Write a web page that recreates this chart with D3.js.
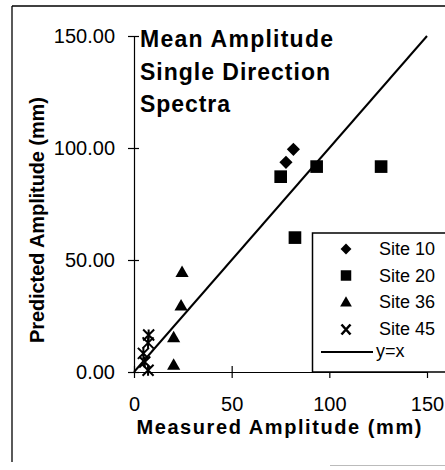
<!DOCTYPE html>
<html>
<head>
<meta charset="utf-8">
<script src="https://cdn.jsdelivr.net/npm/d3@7"></script>
<style>
  html, body { margin: 0; padding: 0; background: #fff; }
  svg { display: block; font-family: "Liberation Sans", Arial, Helvetica, sans-serif; }
</style>
</head>
<body>
<svg id="chart" width="445" height="470"></svg>
<script>
// Measured vs predicted mean amplitude (mm), one array per site: [measured, predicted]
const site10 = [[81.6, 99.4], [77.8, 93.6]];
const site20 = [[75.1, 87.2], [93.5, 91.7], [126.5, 91.7], [82.4, 60.0]];
const site36 = [[24.6, 44.1], [24.1, 29.2], [20.3, 15.0], [20.3, 2.7]];
const site45 = [[7.5, 16.5], [7.2, 13.0], [4.8, 8.3], [5.5, 4.5], [7.2, 0.8]];
const refLine = [[0, 0], [150, 150]];

const xTicks = [0, 50, 100, 150];
const yTicks = [0, 50, 100, 150];
const seriesNames = ["Site 10", "Site 20", "Site 36", "Site 45", "y=x"];
const titleLines = ["Mean Amplitude", "Single Direction", "Spectra"];

const svg = d3.select("#chart");

// outer frame
svg.append("line").attr("x1", 12).attr("y1", 6).attr("x2", 445).attr("y2", 6)
  .attr("stroke", "#000").attr("stroke-width", 1.3);
svg.append("line").attr("x1", 12).attr("y1", 6).attr("x2", 12).attr("y2", 462)
  .attr("stroke", "#000").attr("stroke-width", 1.3);
svg.append("line").attr("x1", 330).attr("y1", 465.5).attr("x2", 445).attr("y2", 465.5)
  .attr("stroke", "#bbb").attr("stroke-width", 1);

const x = d3.scaleLinear().domain([0, 150]).range([134, 427]);
const y = d3.scaleLinear().domain([0, 150]).range([372, 36]);

// y axis
const gy = svg.append("g").attr("transform", `translate(${x(0)},0)`)
  .call(d3.axisLeft(y).tickValues(yTicks).tickFormat(d3.format(".2f")).tickSizeOuter(0).tickPadding(13));
gy.select(".domain").attr("stroke", "#000").attr("stroke-width", 1.2);
gy.selectAll(".tick line").attr("x1", -6).attr("x2", 5).attr("stroke", "#000").attr("stroke-width", 1.2);
gy.selectAll(".tick text").attr("font-size", 20).attr("fill", "#000")
  .attr("font-family", "Liberation Sans, Arial, sans-serif");

// x axis
const gx = svg.append("g").attr("transform", `translate(0,${y(0)})`)
  .call(d3.axisBottom(x).tickValues(xTicks).tickSizeOuter(0));
gx.select(".domain").attr("stroke", "#000").attr("stroke-width", 1.2);
gx.selectAll(".tick line").attr("y1", -6).attr("y2", 6).attr("stroke", "#000").attr("stroke-width", 1.2);
gx.selectAll(".tick text").attr("font-size", 20).attr("fill", "#000")
  .attr("font-family", "Liberation Sans, Arial, sans-serif")
  .attr("y", 38.5).attr("dy", 0);

// axis titles
svg.append("text").attr("x", 279).attr("y", 434).attr("text-anchor", "middle")
  .attr("font-size", 20).attr("font-weight", "bold").attr("textLength", 285)
  .text("Measured Amplitude (mm)");
svg.append("text").attr("transform", "translate(44,220) rotate(-90)").attr("text-anchor", "middle")
  .attr("font-size", 20).attr("font-weight", "bold").attr("textLength", 246)
  .text("Predicted Amplitude (mm)");

// chart title
const titleW = [193, 190, 90];
svg.append("g").selectAll("text").data(titleLines).join("text")
  .attr("x", 140).attr("y", (d, i) => 47 + i * 32.5)
  .attr("font-size", 23).attr("font-weight", "bold")
  .attr("textLength", (d, i) => titleW[i]).attr("lengthAdjust", "spacing")
  .text(d => d);

// y = x reference line
svg.append("path").datum(refLine)
  .attr("d", d3.line().x(d => x(d[0])).y(d => y(d[1])))
  .attr("fill", "none").attr("stroke", "#000").attr("stroke-width", 2);

// marker shapes
const diamond = d3.symbol().type(d3.symbolDiamond2).size(110);
const square = d3.symbol().type(d3.symbolSquare).size(160);
const triangle = d3.symbol().type(d3.symbolTriangle).size(75);
const starPath = s => `M${-s},${-s}L${s},${s}M${-s},${s}L${s},${-s}M0,${-s}L0,${s}`;

svg.append("g").selectAll("path").data(site10).join("path")
  .attr("transform", d => `translate(${x(d[0])},${y(d[1])})`).attr("d", diamond()).attr("fill", "#000");
svg.append("g").selectAll("path").data(site20).join("path")
  .attr("transform", d => `translate(${x(d[0])},${y(d[1])})`).attr("d", square()).attr("fill", "#000");
svg.append("g").selectAll("path").data(site36).join("path")
  .attr("transform", d => `translate(${x(d[0])},${y(d[1])})`).attr("d", triangle()).attr("fill", "#000");
svg.append("g").selectAll("path").data(site45).join("path")
  .attr("transform", d => `translate(${x(d[0])},${y(d[1])})`).attr("d", starPath(5.5))
  .attr("fill", "none").attr("stroke", "#000").attr("stroke-width", 2);

// legend
const lg = svg.append("g");
lg.append("rect").attr("x", 312.5).attr("y", 233).attr("width", 150).attr("height", 139)
  .attr("fill", "#fff").attr("stroke", "#000").attr("stroke-width", 1.5);
const rowBase = [255, 281.5, 308, 334.5, 357];
const mx = 346;
lg.append("path").attr("transform", `translate(${mx},${rowBase[0] - 6})`)
  .attr("d", d3.symbol().type(d3.symbolDiamond2).size(75)()).attr("fill", "#000");
lg.append("path").attr("transform", `translate(${mx},${rowBase[1] - 6})`)
  .attr("d", d3.symbol().type(d3.symbolSquare).size(110)()).attr("fill", "#000");
lg.append("path").attr("transform", `translate(${mx},${rowBase[2] - 5})`)
  .attr("d", d3.symbol().type(d3.symbolTriangle).size(60)()).attr("fill", "#000");
lg.append("path").attr("transform", `translate(${mx},${rowBase[3] - 5})`)
  .attr("d", "M-4.5,-5L4.5,5M-4.5,5L4.5,-5").attr("fill", "none").attr("stroke", "#000").attr("stroke-width", 2.6);
lg.append("line").attr("x1", 321).attr("x2", 373).attr("y1", 352).attr("y2", 352)
  .attr("stroke", "#000").attr("stroke-width", 2);
lg.selectAll("text").data(seriesNames).join("text")
  .attr("x", (d, i) => i === 4 ? 376 : 379).attr("y", (d, i) => rowBase[i])
  .attr("font-size", 18)
  .text(d => d);
</script>
</body>
</html>
